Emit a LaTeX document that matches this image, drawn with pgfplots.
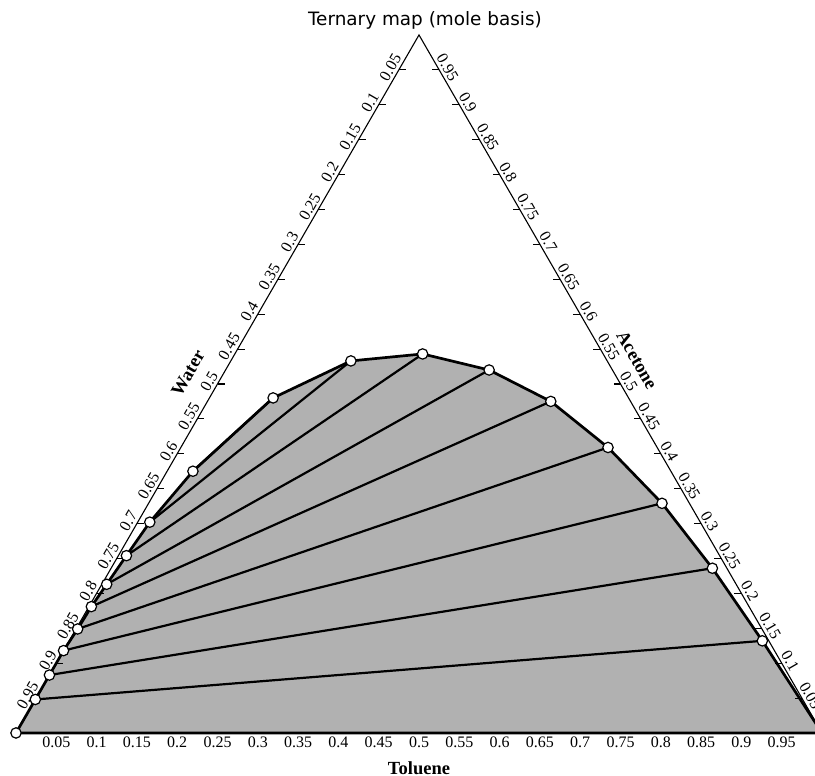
\documentclass[border=0pt]{standalone}
\usepackage{fontspec}
\setmainfont{Liberation Serif}
\newfontfamily\titlefont{DejaVu Sans}
\usepackage{pgfplots}
\pgfplotsset{compat=1.18}
\usepackage{pgfplotstable}

\definecolor{regionfill}{RGB}{177,177,177}

% Binodal curve, mole fractions (T = toluene, A = acetone; water = 1 - T - A)
\pgfplotstableread{
T A
0.000 0.000
0.000 0.048
0.000 0.083
0.000 0.118
0.002 0.149
0.003 0.181
0.006 0.213
0.010 0.254
0.015 0.302
0.032 0.375
0.079 0.480
0.149 0.533
0.233 0.543
0.327 0.520
0.426 0.475
0.530 0.409
0.637 0.329
0.746 0.236
0.860 0.132
1.000 0.000
}\binodal

% ternary -> cartesian (toluene corner at right, acetone at top, water at left)
\pgfplotsset{
  table/tern/.style={x expr=\thisrow{T}+0.5*\thisrow{A}, y expr=0.8660254*\thisrow{A}},
  tie/.style={black, line width=1.1pt},
}

\begin{document}
\begin{tikzpicture}
\begin{axis}[
  x=403pt, y=403pt,
  xmin=-0.02, xmax=1.0, ymin=-0.06, ymax=0.91,
  hide axis, clip=false,
]
% triangle frame
\addplot[black, line width=0.55pt] coordinates {(0,0) (1,0) (0.5,0.8660254) (0,0)};

% two-phase region
\addplot[fill=regionfill, draw=black, line width=1.35pt, line join=round] table[tern] {\binodal} -- cycle;

% tie lines (water-rich end, toluene-rich end)
\addplot[tie] table[tern, row sep=\\] {T A\\ 0.000 0.048\\ 0.860 0.132\\};
\addplot[tie] table[tern, row sep=\\] {T A\\ 0.000 0.083\\ 0.746 0.236\\};
\addplot[tie] table[tern, row sep=\\] {T A\\ 0.000 0.118\\ 0.637 0.329\\};
\addplot[tie] table[tern, row sep=\\] {T A\\ 0.002 0.149\\ 0.530 0.409\\};
\addplot[tie] table[tern, row sep=\\] {T A\\ 0.003 0.181\\ 0.426 0.475\\};
\addplot[tie] table[tern, row sep=\\] {T A\\ 0.006 0.213\\ 0.327 0.520\\};
\addplot[tie] table[tern, row sep=\\] {T A\\ 0.010 0.254\\ 0.233 0.543\\};
\addplot[tie] table[tern, row sep=\\] {T A\\ 0.015 0.302\\ 0.149 0.533\\};
\addplot[tie] table[tern, row sep=\\] {T A\\ 0.032 0.375\\ 0.079 0.480\\};

% measured points
\addplot[only marks, mark=*, mark size=2.6pt,
  mark options={fill=white, draw=black, line width=0.6pt}] table[tern] {\binodal};

% side ticks and labels
\pgfplotsinvokeforeach{0.05,0.1,0.15,0.2,0.25,0.3,0.35,0.4,0.45,0.5,0.55,0.6,0.65,0.7,0.75,0.8,0.85,0.9,0.95}{
  % water (left side)
  \draw[black, line width=0.55pt] (axis cs:{0.5-0.5*#1},{0.8660254*(1-#1)}) -- ++(3.5pt,0pt);
  \node[font=\fontsize{8}{9.6}\selectfont, inner sep=0pt, rotate=60]
    at ([xshift=-4.25pt, yshift=1.25pt]axis cs:{0.5-0.5*#1},{0.8660254*(1-#1)}) {#1};
  % acetone (right side)
  \draw[black, line width=0.55pt] (axis cs:{1-0.5*#1},{0.8660254*#1}) -- ++(-3.5pt,0pt);
  \node[font=\fontsize{8}{9.6}\selectfont, inner sep=0pt, rotate=-60]
    at ([xshift=4.25pt, yshift=1.25pt]axis cs:{1-0.5*#1},{0.8660254*#1}) {#1};
  % toluene (bottom)
  \node[font=\fontsize{8}{9.6}\selectfont, inner sep=0pt]
    at ([yshift=-4.75pt]axis cs:#1,0) {#1};
}

% axis titles
\node[font=\bfseries\fontsize{9.25}{11}\selectfont, rotate=60] at (axis cs:0.2134,0.4467) {Water};
\node[font=\bfseries\fontsize{9.25}{11}\selectfont, rotate=-60] at (axis cs:0.7705,0.4628) {Acetone};
\node[font=\bfseries\fontsize{9.25}{11}\selectfont] at (axis cs:0.5,-0.0434) {Toluene};
\node[font=\titlefont\fontsize{9.2}{11}\selectfont, anchor=base] at (axis cs:0.5074,0.8772) {Ternary map (mole basis)};

\coordinate (bbA) at (axis cs:-0.01985,-0.05335);
\coordinate (bbB) at (axis cs:0.99132,0.9094);
\end{axis}
\pgfresetboundingbox
\path[use as bounding box] (bbA) rectangle (bbB);
\end{tikzpicture}
\end{document}
